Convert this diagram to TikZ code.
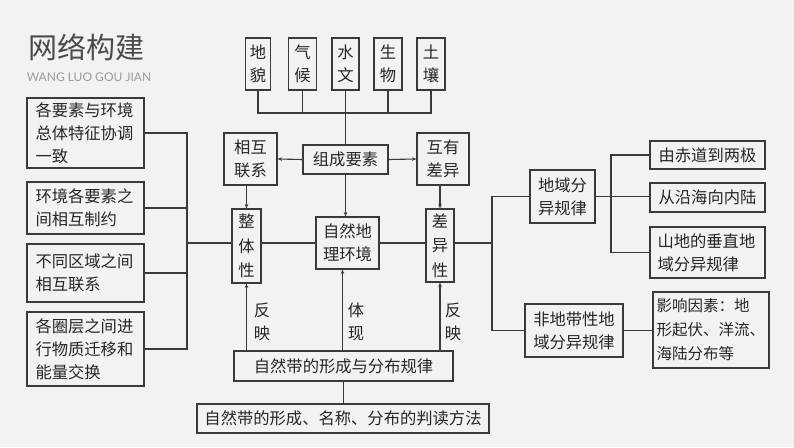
\documentclass[tikz,border=0pt]{standalone}
\usepackage{fontspec}
\setmainfont{Noto Sans CJK SC}
\newfontfamily\latinfont{Lato}
\usetikzlibrary{arrows.meta}
\definecolor{bg}{HTML}{F2F2F2}
\definecolor{ln}{HTML}{3A3A3A}
\definecolor{tx}{HTML}{262626}
\definecolor{ttl}{HTML}{4A4A4A}
\definecolor{subc}{HTML}{9C9C9C}
\begin{document}
\begin{tikzpicture}[x=1pt,y=-1pt,
  box/.style={draw=ln,line width=1.1pt,inner sep=0pt,text=tx,font=\fontsize{16.3}{23}\selectfont,align=center},
  vbox/.style={box,font=\fontsize{16.3}{24.5}\selectfont},
  lbox/.style={box,align=left,text width=100pt,minimum width=117pt},
  conn/.style={draw=ln,line width=1.1pt},
  arr/.style={conn,-{Stealth[length=4.5pt,width=3.5pt]}},
  lbl/.style={text=tx,font=\fontsize{16.3}{23}\selectfont,align=center,inner sep=0pt}]
\fill[bg] (0,0) rectangle (794,447);
\useasboundingbox (0,0) rectangle (794,447);

% title
\node[text=ttl,font=\fontsize{29}{29}\selectfont,inner sep=0pt] (title) at (86.5,47) {网络构建};
\node[text=subc,font=\latinfont\fontsize{12}{12}\selectfont,inner sep=0pt] (subtitle) at (89,77) {WANG LUO GOU JIAN};

% top elements
\node[box,minimum width=25pt,minimum height=52pt] (dimao) at (258,64) {地\\貌};
\node[box,minimum width=28pt,minimum height=52pt] (qihou) at (302.5,64) {气\\候};
\node[box,minimum width=27pt,minimum height=52pt] (shuiwen) at (345.5,64) {水\\文};
\node[box,minimum width=28pt,minimum height=52pt] (shengwu) at (388,64) {生\\物};
\node[box,minimum width=28pt,minimum height=52pt] (turang) at (431,64) {土\\壤};
\coordinate (topbus) at (0,113);
\draw[conn] (dimao.south) -- (dimao.south |- topbus) -- (turang.south |- topbus) -- (turang.south);
\draw[conn] (qihou.south) -- (qihou.south |- topbus);
\draw[conn] (shengwu.south) -- (shengwu.south |- topbus);

% composition
\node[box,minimum width=85pt,minimum height=29pt] (zucheng) at (345.5,159.5) {组成要素};
\draw[conn] (shuiwen.south) -- (zucheng.north);
\node[box,minimum width=53pt,minimum height=52pt] (xianghu) at (250.5,159) {相互\\联系};
\node[box,minimum width=52pt,minimum height=52pt] (huyou) at (443,159) {互有\\差异};
\draw[arr] (zucheng.west) -- (xianghu.east);
\draw[arr] (zucheng.east) -- (huyou.west);

% middle row
\node[vbox,minimum width=29pt,minimum height=74pt] (zhengti) at (246.5,246) {整\\体\\性};
\node[box,minimum width=63pt,minimum height=52pt] (ziran) at (347.5,243) {自然地\\理环境};
\node[vbox,minimum width=28pt,minimum height=73pt] (chayi) at (440,245.5) {差\\异\\性};
\draw[arr] (zhengti.north |- xianghu.south) -- (zhengti.north);
\draw[arr] (chayi.north |- huyou.south) -- (chayi.north);
\draw[arr] (zucheng.south) -- (zucheng.south |- ziran.north);

\coordinate (lbus) at (187,0);
\coordinate (rbus) at (492,0);
\draw[conn] (lbus |- ziran.west) -- (zhengti.west |- ziran.west);
\draw[conn] (zhengti.east |- ziran.west) -- (ziran.west);
\draw[conn] (ziran.east) -- (chayi.west |- ziran.east);
\draw[conn] (chayi.east |- ziran.east) -- (rbus |- ziran.east);

% left boxes
\node[lbox,minimum height=70pt] (l1) at (85.5,133) {各要素与环境\\总体特征协调\\一致};
\node[lbox,minimum height=52pt] (l2) at (85.5,208) {环境各要素之\\间相互制约};
\node[lbox,minimum height=58pt] (l3) at (85.5,273) {不同区域之间\\相互联系};
\node[lbox,minimum height=74pt] (l4) at (85.5,349) {各圈层之间进\\行物质迁移和\\能量交换};
\draw[conn] (l1.east) -- (l1.east -| lbus) -- (l4.east -| lbus) -- (l4.east);
\draw[conn] (l2.east) -- (l2.east -| lbus);
\draw[conn] (l3.east) -- (l3.east -| lbus);

% bottom
\node[box,minimum width=219pt,minimum height=30pt] (band) at (343.5,366) {自然带的形成与分布规律};
\draw[arr] (zhengti.south |- band.north) -- (zhengti.south);
\draw[arr] ([xshift=-5pt]ziran.south |- band.north) -- ([xshift=-5pt]ziran.south);
\draw[arr] (chayi.south |- band.north) -- (chayi.south);
\node[lbl] (fy1) at (262,321.5) {反\\映};
\node[lbl] (tixian) at (356,321.5) {体\\现};
\node[lbl] (fy2) at (453,321.5) {反\\映};
\node[box,minimum width=292pt,minimum height=29pt] (method) at (343,418.5) {自然带的形成、名称、分布的判读方法};
\draw[conn] (band.south) -- (band.south |- method.north);

% right side
\node[box,minimum width=65pt,minimum height=53pt] (dy) at (562.5,196.5) {地域分\\异规律};
\node[box,minimum width=98pt,minimum height=53pt] (fd) at (574,330.5) {非地带性地\\域分异规律};
\draw[conn] (dy.west) -- (dy.west -| rbus) -- (fd.west -| rbus) -- (fd.west);
\coordinate (sbus) at (611,0);
\node[box,minimum width=115pt,minimum height=28pt] (r1) at (707.5,155) {由赤道到两极};
\node[box,minimum width=115pt,minimum height=29pt] (r2) at (707.5,197.5) {从沿海向内陆};
\node[box,align=left,text width=100pt,minimum width=115pt,minimum height=51pt] (r3) at (707.5,252.5) {山地的垂直地\\域分异规律};
\draw[conn] (dy.east) -- (dy.east -| r2.west);
\draw[conn] (r1.west) -- (r1.west -| sbus) -- (r3.west -| sbus) -- (r3.west);
\node[box,align=left,text width=109pt,minimum width=116pt,minimum height=76pt,font=\fontsize{15.5}{24}\selectfont] (yx) at (711,330) {影响因素：地\\形起伏、洋流、\\海陆分布等};
\draw[conn] (fd.east) -- (fd.east -| yx.west);
\end{tikzpicture}
\end{document}
